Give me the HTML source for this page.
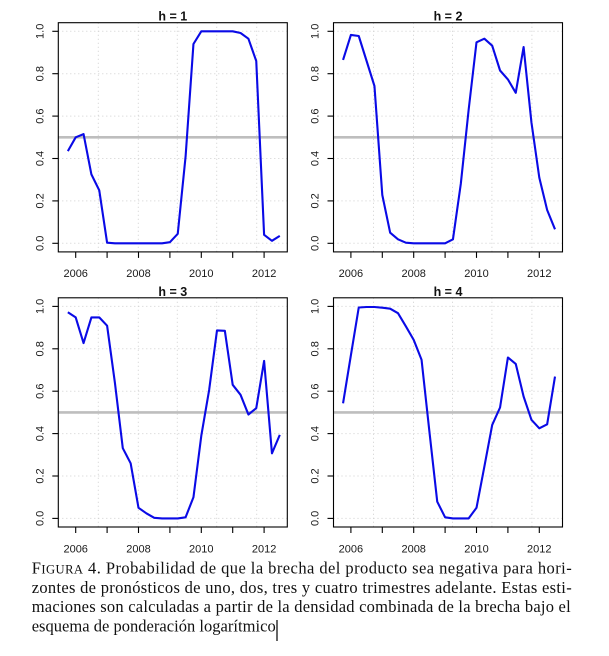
<!DOCTYPE html>
<html>
<head>
<meta charset="utf-8">
<style>
  html, body { margin:0; padding:0; background:#ffffff; }
  body { width:609px; height:656px; overflow:hidden; position:relative; }
  svg { position:absolute; left:0; top:0; }
  .tl { font-family:"Liberation Sans", Arial, sans-serif; font-size:11px; fill:#1a1a1a; }
  .tt { font-family:"Liberation Sans", Arial, sans-serif; font-size:12.5px; font-weight:bold; fill:#111; }
  .cap { font-family:"Liberation Serif", "Times New Roman", serif; font-size:16.5px; fill:#111; }
</style>
</head>
<body>
<svg width="609" height="656" viewBox="0 0 609 656" xmlns="http://www.w3.org/2000/svg">
  <defs>
    <g id="grid">
      <g stroke="#cfcfcf" stroke-width="1" stroke-dasharray="1 3" fill="none">
        <line x1="0" y1="220.6" x2="229" y2="220.6"/>
        <line x1="0" y1="178.2" x2="229" y2="178.2"/>
        <line x1="0" y1="135.8" x2="229" y2="135.8"/>
        <line x1="0" y1="93.4" x2="229" y2="93.4"/>
        <line x1="0" y1="51.0" x2="229" y2="51.0"/>
        <line x1="0" y1="8.6" x2="229" y2="8.6"/>
        <line x1="40" y1="0" x2="40" y2="229.2"/>
        <line x1="80" y1="0" x2="80" y2="229.2"/>
        <line x1="119" y1="0" x2="119" y2="229.2"/>
        <line x1="158.4" y1="0" x2="158.4" y2="229.2"/>
        <line x1="198.4" y1="0" x2="198.4" y2="229.2"/>
      </g>
      <line x1="0" y1="114.6" x2="229" y2="114.6" stroke="#bebebe" stroke-width="2.6"/>
    </g>
    <g id="axes">
      <rect x="0" y="0" width="229" height="229.2" fill="none" stroke="#000" stroke-width="1.1"/>
      <g stroke="#000" stroke-width="1.1">
        <line x1="0" y1="220.6" x2="-6" y2="220.6"/>
        <line x1="0" y1="178.2" x2="-6" y2="178.2"/>
        <line x1="0" y1="135.8" x2="-6" y2="135.8"/>
        <line x1="0" y1="93.4" x2="-6" y2="93.4"/>
        <line x1="0" y1="51.0" x2="-6" y2="51.0"/>
        <line x1="0" y1="8.6" x2="-6" y2="8.6"/>
        <line x1="17.4" y1="229.2" x2="17.4" y2="235.2"/>
        <line x1="48.8" y1="229.2" x2="48.8" y2="235.2"/>
        <line x1="80.2" y1="229.2" x2="80.2" y2="235.2"/>
        <line x1="111.6" y1="229.2" x2="111.6" y2="235.2"/>
        <line x1="143" y1="229.2" x2="143" y2="235.2"/>
        <line x1="174.4" y1="229.2" x2="174.4" y2="235.2"/>
        <line x1="205.8" y1="229.2" x2="205.8" y2="235.2"/>
      </g>
      <g class="tl" text-anchor="middle">
        <text x="17.4" y="254.5">2006</text>
        <text x="80.2" y="254.5">2008</text>
        <text x="143" y="254.5">2010</text>
        <text x="205.8" y="254.5">2012</text>
        <text transform="translate(-15,220.6) rotate(-90)">0.0</text>
        <text transform="translate(-15,178.2) rotate(-90)">0.2</text>
        <text transform="translate(-15,135.8) rotate(-90)">0.4</text>
        <text transform="translate(-15,93.4) rotate(-90)">0.6</text>
        <text transform="translate(-15,51.0) rotate(-90)">0.8</text>
        <text transform="translate(-15,8.6) rotate(-90)">1.0</text>
      </g>
    </g>
  </defs>

  <!-- Panel 1 -->
  <g transform="translate(58.3,22.7)">
    <use href="#grid"/>
    <polyline fill="none" stroke="#0a0ae6" stroke-width="2.1" stroke-linejoin="round"
      points="9.55,128.4 17.4,114.6 25.25,111.4 33.1,151.7 40.95,167.6 48.8,220 56.65,220.6 64.5,220.6 72.35,220.6 80.2,220.6 88.05,220.6 95.9,220.6 103.75,220.6 111.6,219.5 119.45,211.1 127.3,133.7 135.15,21.3 143,8.6 150.85,8.6 158.7,8.6 166.55,8.6 174.4,8.6 182.25,10.3 190.1,16 197.95,38.3 205.8,212.1 213.65,218.1 221.5,213.2"/>
    <use href="#axes"/>
    <text class="tt" x="114.5" y="-2" text-anchor="middle">h = 1</text>
  </g>

  <!-- Panel 2 -->
  <g transform="translate(333.5,22.7)">
    <use href="#grid"/>
    <polyline fill="none" stroke="#0a0ae6" stroke-width="2.1" stroke-linejoin="round"
      points="9.55,37.2 17.4,12.2 25.25,13.3 33.1,38.3 40.95,63.3 48.8,172.3 56.65,210 64.5,216.6 72.35,220 80.2,220.6 88.05,220.6 95.9,220.6 103.75,220.6 111.6,220.6 119.45,216.6 127.3,161.2 135.15,87 143,19.6 150.85,16 158.7,23 166.55,47.8 174.4,56.7 182.25,70.1 190.1,24.3 197.95,99.8 205.8,154.9 213.65,187.3 221.5,206.6"/>
    <use href="#axes"/>
    <text class="tt" x="114.5" y="-2" text-anchor="middle">h = 2</text>
  </g>

  <!-- Panel 3 -->
  <g transform="translate(58.3,297.8)">
    <use href="#grid"/>
    <polyline fill="none" stroke="#0a0ae6" stroke-width="2.1" stroke-linejoin="round"
      points="9.55,14.5 17.4,19.6 25.25,45.3 33.1,19.6 40.95,19.6 48.8,27.9 56.65,85.3 64.5,150.4 72.35,165.5 80.2,210 88.05,215.5 95.9,220 103.75,220.6 111.6,220.6 119.45,220.6 127.3,219.5 135.15,199.4 143,137.9 150.85,92.1 158.7,32.6 166.55,33 174.4,87 182.25,97 190.1,116.7 197.95,110.4 205.8,63.1 213.65,155.5 221.5,137.1"/>
    <use href="#axes"/>
    <text class="tt" x="114.5" y="-2" text-anchor="middle">h = 3</text>
  </g>

  <!-- Panel 4 -->
  <g transform="translate(333.5,297.8)">
    <use href="#grid"/>
    <polyline fill="none" stroke="#0a0ae6" stroke-width="2.1" stroke-linejoin="round"
      points="9.55,105.5 17.4,57.4 25.25,9.7 33.1,9.2 40.95,9.2 48.8,9.9 56.65,10.9 64.5,15.4 72.35,28.5 80.2,42.1 88.05,62 95.9,133.7 103.75,203.9 111.6,219.5 119.45,220.6 127.3,220.6 135.15,220.6 143,210 150.85,168.9 158.7,127.1 166.55,109.7 174.4,59.7 182.25,66.1 190.1,98.7 197.95,122 205.8,130.5 213.65,126.5 221.5,78.8"/>
    <use href="#axes"/>
    <text class="tt" x="114.5" y="-2" text-anchor="middle">h = 4</text>
  </g>

  <!-- Caption -->
  <text class="cap" x="31.7" y="573.3" textLength="540" lengthAdjust="spacing">F<tspan font-size="12.6px">IGURA</tspan> 4.  Probabilidad de que la brecha del producto sea negativa para hori-</text>
  <text class="cap" x="31.7" y="592.8" textLength="540" lengthAdjust="spacing">zontes de pronósticos de uno, dos, tres y cuatro trimestres adelante. Estas esti-</text>
  <text class="cap" x="31.7" y="612.2" textLength="539" lengthAdjust="spacing">maciones son calculadas a partir de la densidad combinada de la brecha bajo el</text>
  <text class="cap" x="31.7" y="631.7" textLength="244" lengthAdjust="spacing">esquema de ponderación logarítmico</text>
  <line x1="277" y1="620" x2="277" y2="641" stroke="#000" stroke-width="1.2"/>
</svg>
</body>
</html>
